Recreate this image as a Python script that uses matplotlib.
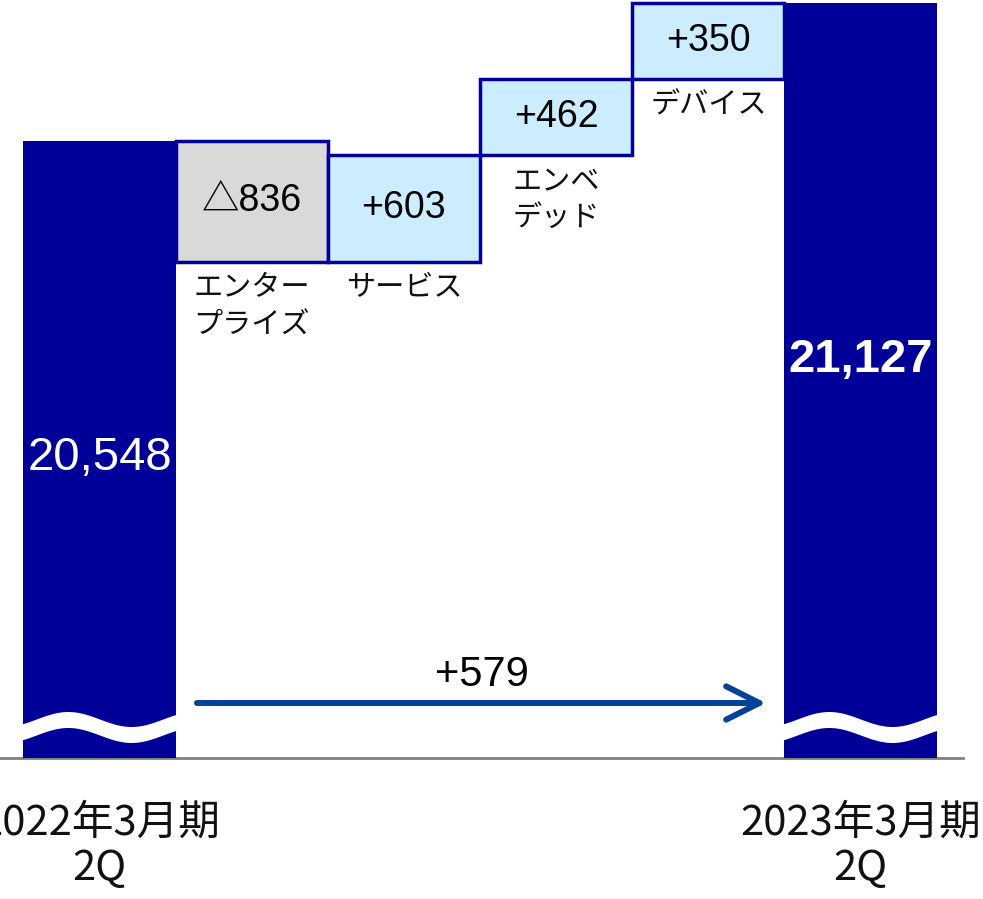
import numpy as np
import matplotlib.pyplot as plt
from matplotlib.transforms import blended_transform_factory

plt.rcParams['font.family'] = ['Liberation Sans', 'Noto Sans CJK JP']

# data
start_val = 20548
end_val = 21127
period_labels = ['2022年3月期\n2Q', '2023年3月期\n2Q']
segments = ['エンター\nプライズ', 'サービス', 'エンベ\nデッド', 'デバイス']
deltas = [-836, 603, 462, 350]
delta_labels = ['△836', '+603', '+462', '+350']

navy = '#000099'
light_blue = '#CCECFF'
grey_box = '#D9D9D9'
arrow_col = '#00449A'

levels = start_val + np.cumsum(deltas)
bottoms = np.r_[start_val, levels[:-1]]
tops = levels

# the original is a schematic (not to scale) - squeeze the value axis so the
# steps sit where they sit in the slide
knot_vals = [-5000, 0] + sorted(set([start_val] + list(levels))) + [21140, 25000]
knot_px = [-126, 0, 496, 603, 617, 679, 755, 758, 1646]

def fwd(v):
    return np.interp(v, knot_vals, knot_px)

def inv(p):
    return np.interp(p, knot_px, knot_vals)

fig = plt.figure(figsize=(9.83, 8.99), dpi=100)
ax = fig.add_axes([0, 141 / 899, 1, 758 / 899])
ax.set_yscale('function', functions=(fwd, inv))
ax.set_ylim(0, 21140)
ax.set_xlim(-0.654, 5.805)
ax.axis('off')

blend = blended_transform_factory(ax.transData, ax.transAxes)
pt = 0.72  # points per pixel

# baseline
ax.plot([-0.7, 5.673], [0, 0], color='#808080', lw=2, clip_on=False, zorder=1)

# totals
ax.bar([0, 5], [start_val, end_val], width=1.0, color=navy, zorder=2)

# steps
xs = np.arange(1, len(deltas) + 1)
lo = np.minimum(bottoms, tops)
hi = np.maximum(bottoms, tops)
colors = [grey_box if d < 0 else light_blue for d in deltas]
ax.bar(xs, hi - lo, bottom=lo, width=1.0, color=colors, edgecolor=navy,
       linewidth=2.5, zorder=2)

for x, l, h, lab, seg in zip(xs, lo, hi, delta_labels, segments):
    mid = inv((fwd(l) + fwd(h)) / 2)
    ax.text(x, mid, lab, ha='center', va='center', fontsize=27, zorder=4)
    ax.annotate(seg, xy=(x, l), xytext=(0, -8), textcoords='offset points',
                ha='center', va='top', fontsize=21, linespacing=1.35,
                family=['Noto Sans CJK JP'], color='#111111')

# wave breaks on the totals
t = np.linspace(0, 1, 200)
upper = (39 + 7.5 * np.sin(2 * np.pi * (t - 0.1) / 0.8)) / 758
lower = upper - 16 / 758
for i in (0, 5):
    ax.fill_between(i - 0.52 + 1.04 * t, lower, upper, color='white',
                    transform=blend, zorder=3, lw=0)

# total labels
ax.annotate(f'{start_val:,}', xy=(0, 0), xytext=(0, 300 * pt),
            textcoords='offset points', ha='center', va='center',
            fontsize=34, color='white', zorder=4)
ax.annotate(f'{end_val:,}', xy=(5, 0), xytext=(0, 398 * pt),
            textcoords='offset points', ha='center', va='center',
            fontsize=34, fontweight='bold', color='white', zorder=4)

# overall change arrow
ax.annotate('', xy=(4.38, 55 / 758), xytext=(0.64, 55 / 758),
            xycoords=blend, textcoords=blend,
            arrowprops=dict(arrowstyle='->, head_length=1.2, head_width=0.6',
                            mutation_scale=20, color=arrow_col, lw=4.3,
                            capstyle='round', joinstyle='round',
                            shrinkA=0, shrinkB=0))
ax.text(2.51, 83 / 758, f'+{end_val - start_val}', transform=blend,
        ha='center', va='center', fontsize=30)

# period labels
for i, lab in zip([0, 5], period_labels):
    ax.annotate(lab, xy=(i, 0), xytext=(0, -45 * pt), textcoords='offset points',
                ha='center', va='top', fontsize=30, linespacing=1.12,
                family=['Noto Sans CJK JP'], color='#111111')

fig.savefig('out.png', dpi=100)
